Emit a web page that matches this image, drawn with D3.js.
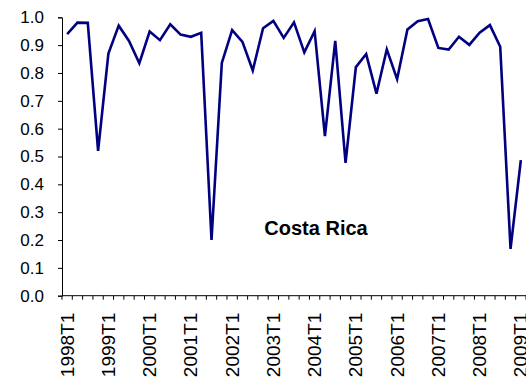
<!DOCTYPE html>
<html>
<head>
<meta charset="utf-8">
<script src="https://cdn.jsdelivr.net/npm/d3@7"></script>
<style>
  html, body { margin: 0; padding: 0; background: #fff; }
  svg { display: block; }
  text { font-family: "Liberation Sans", Arial, sans-serif; }
</style>
</head>
<body>
<svg id="chart" width="526" height="383"></svg>
<script>
// Quarterly series, Costa Rica, 1998T1 – 2009T1
const years = [1998, 1999, 2000, 2001, 2002, 2003, 2004, 2005, 2006, 2007, 2008, 2009];
const quarters = years.flatMap(y => [1, 2, 3, 4].map(q => `${y}T${q}`)).slice(0, 45);
const values = [
  0.940, 0.981, 0.980, 0.520, 0.870, 0.970, 0.915, 0.835,
  0.949, 0.918, 0.975, 0.938, 0.930, 0.944, 0.200, 0.836,
  0.954, 0.912, 0.809, 0.961, 0.987, 0.926, 0.982, 0.874,
  0.950, 0.573, 0.915, 0.477, 0.821, 0.868, 0.726, 0.885,
  0.778, 0.956, 0.986, 0.994, 0.890, 0.884, 0.930, 0.901,
  0.945, 0.972, 0.894, 0.168, 0.487
];
const yTicks = [0, 0.1, 0.2, 0.3, 0.4, 0.5, 0.6, 0.7, 0.8, 0.9, 1.0];
const xTickLabels = ["1998T1", "1999T1", "2000T1", "2001T1", "2002T1", "2003T1",
  "2004T1", "2005T1", "2006T1", "2007T1", "2008T1", "2009T1"];
const title = "Costa Rica";

const svg = d3.select("#chart");
const plot = { left: 62, right: 526, top: 17.3, bottom: 295.7 };

const x = d3.scaleBand().domain(quarters).range([plot.left, plot.right]).padding(0);
const y = d3.scaleLinear().domain([0, 1]).range([plot.bottom, plot.top]);

// Y axis
const yAxis = svg.append("g")
  .attr("transform", `translate(${plot.left},0)`)
  .call(d3.axisLeft(y).tickValues(yTicks).tickFormat(d3.format(".1f")).tickSize(4).tickPadding(14));
yAxis.select(".domain").attr("stroke", "#000").attr("stroke-width", 1);
yAxis.selectAll(".tick line").attr("stroke", "#000");
yAxis.selectAll(".tick text").attr("font-size", 17).attr("fill", "#000")
  .attr("font-family", "Liberation Sans, Arial, sans-serif");

// X axis: tick marks on category boundaries
const xg = svg.append("g").attr("transform", `translate(0,${plot.bottom})`);
xg.append("line").attr("x1", plot.left).attr("x2", plot.right).attr("stroke", "#000");
const boundaries = d3.range(quarters.length + 1).map(i => plot.left + i * x.step());
xg.selectAll("line.tick").data(boundaries).join("line")
  .attr("class", "tick")
  .attr("x1", d => d).attr("x2", d => d)
  .attr("y1", 0).attr("y2", 4)
  .attr("stroke", "#000");

// Rotated labels at the first quarter of each year
xg.selectAll("text.lbl").data(xTickLabels).join("text")
  .attr("class", "lbl")
  .attr("transform", d => `translate(${x(d) + x.bandwidth() / 2 + 6.5},17) rotate(-90)`)
  .attr("text-anchor", "end")
  .attr("font-size", 19)
  .attr("fill", "#000")
  .text(d => d);

// Series line
const line = d3.line()
  .x((d, i) => x(quarters[i]) + x.bandwidth() / 2)
  .y(d => y(d));
svg.append("path")
  .datum(values)
  .attr("d", line)
  .attr("fill", "none")
  .attr("stroke", "#000080")
  .attr("stroke-width", 2.6)
  .attr("stroke-linejoin", "miter");

// Title inside the plot
svg.append("text")
  .attr("x", 316).attr("y", 235)
  .attr("text-anchor", "middle")
  .attr("font-size", 20)
  .attr("font-weight", "bold")
  .attr("fill", "#000")
  .text(title);
</script>
</body>
</html>
